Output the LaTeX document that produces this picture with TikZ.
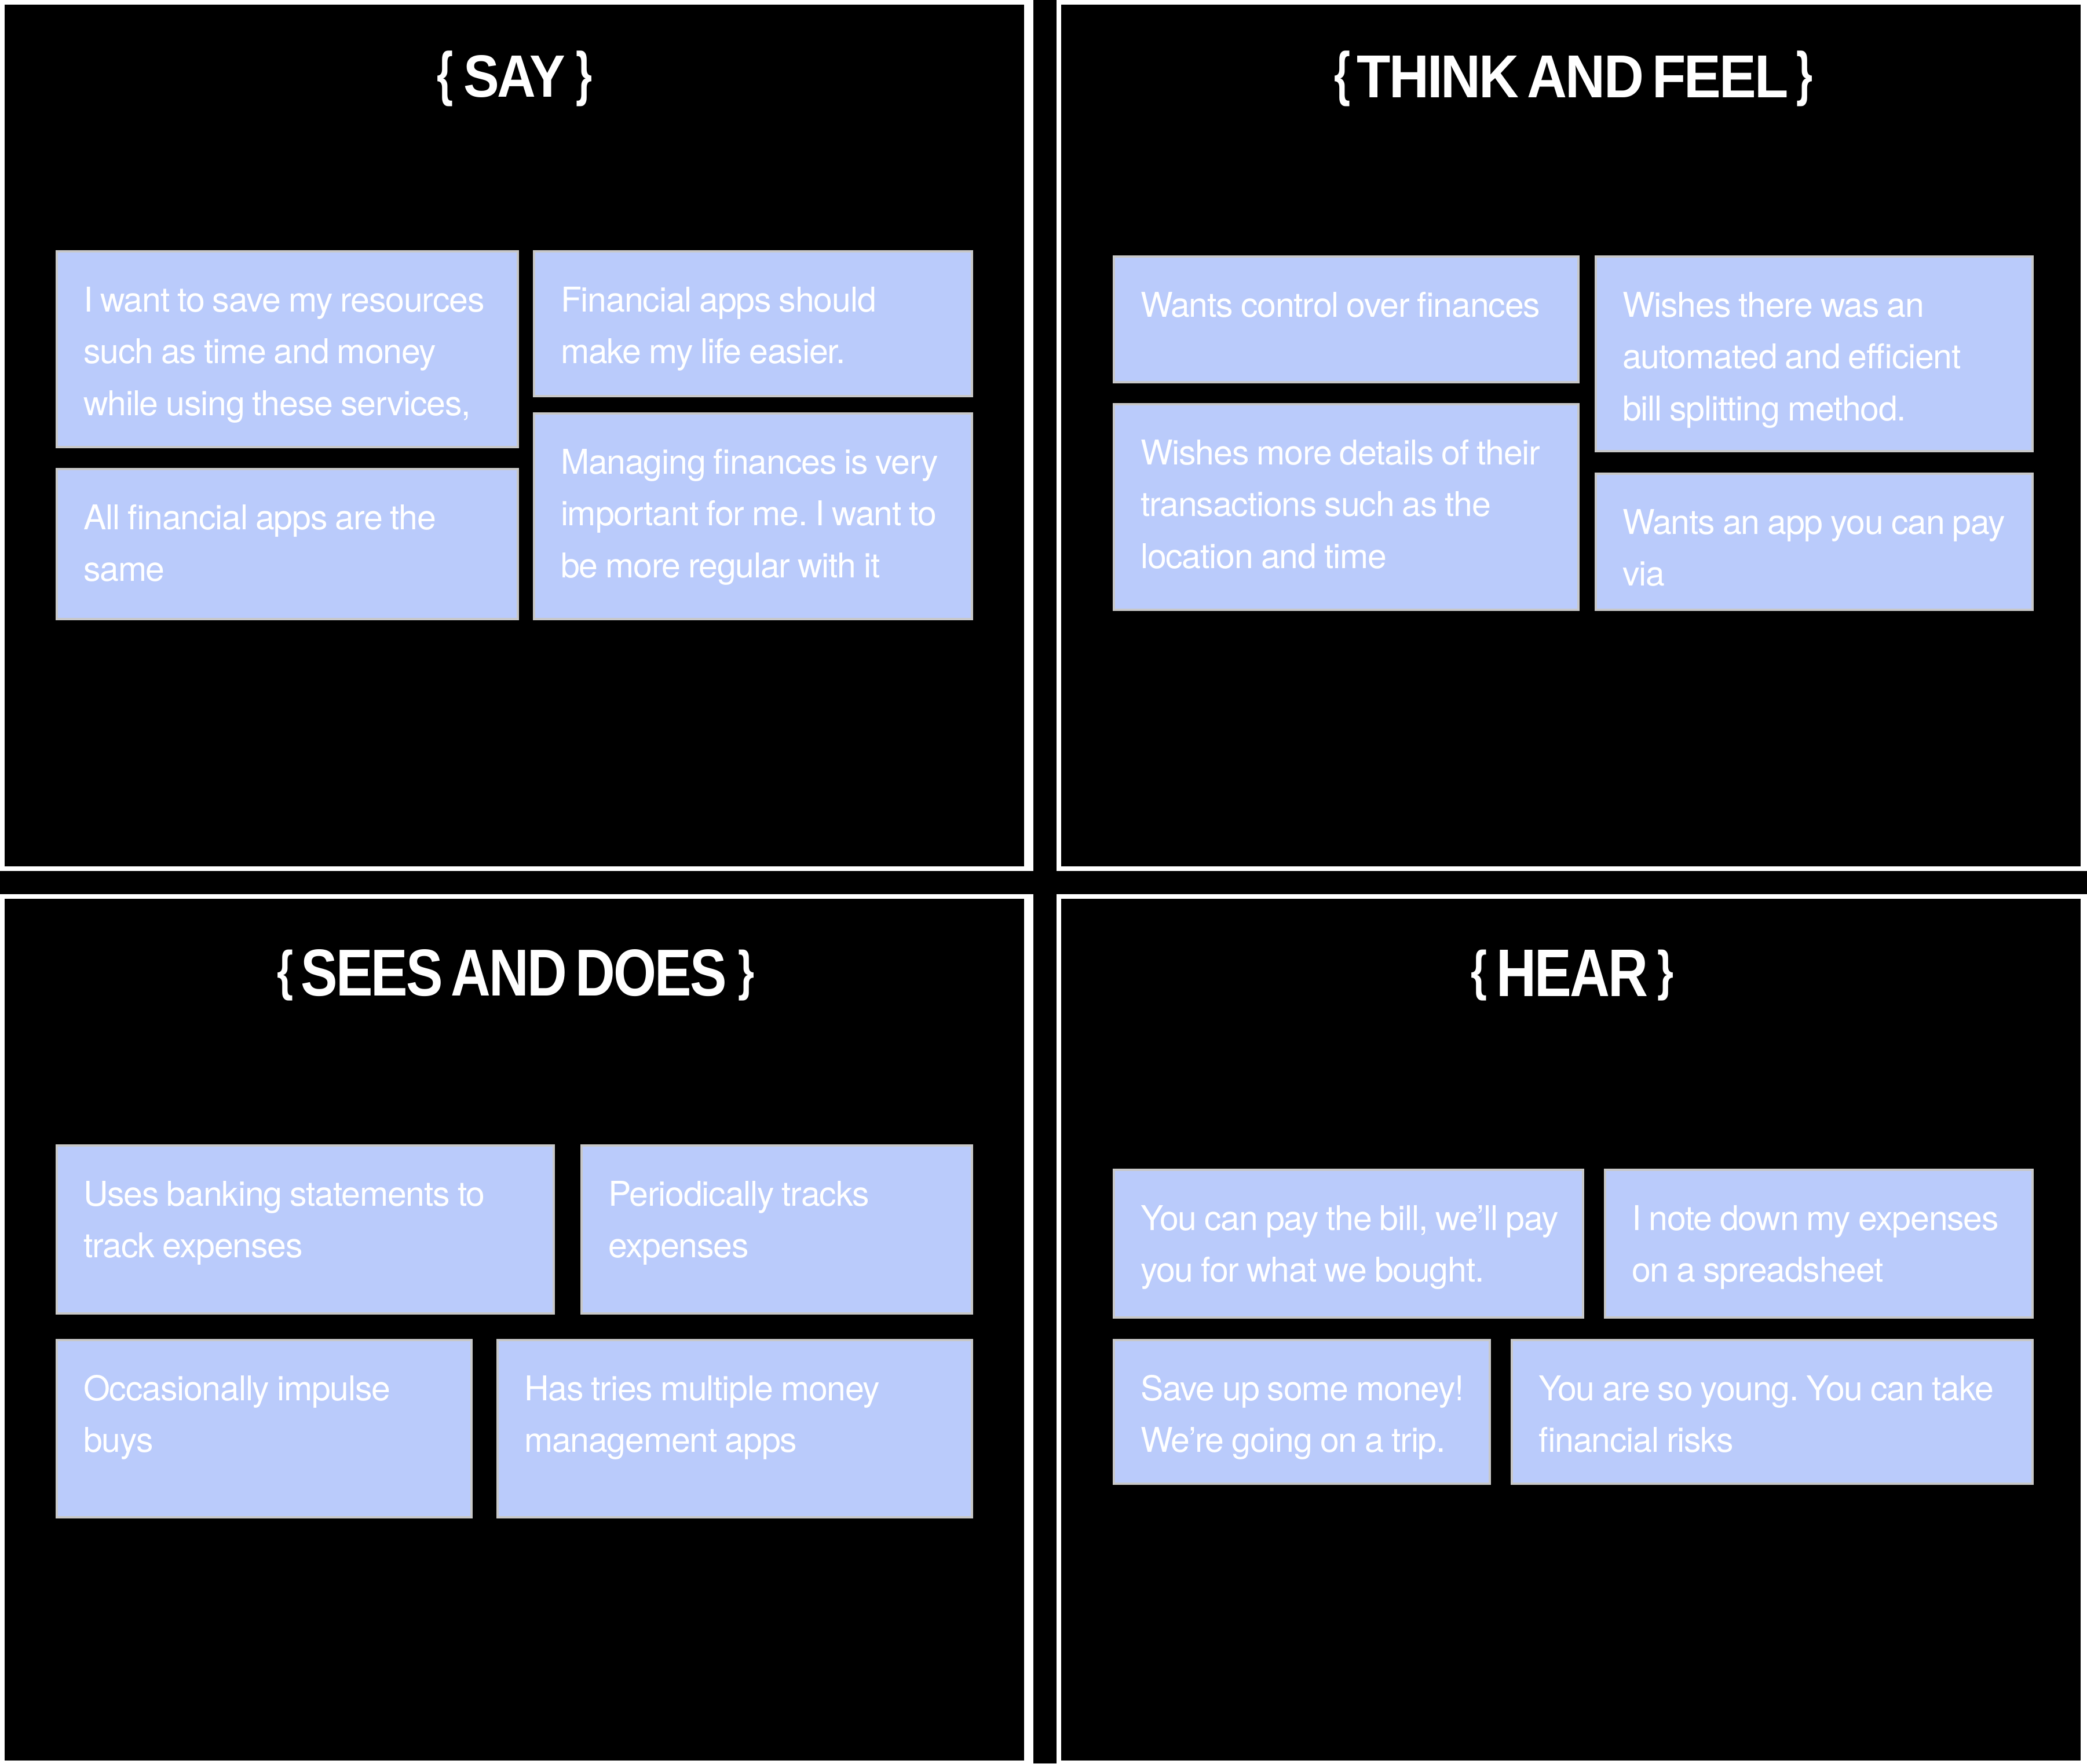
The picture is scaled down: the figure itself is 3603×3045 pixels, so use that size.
\documentclass[tikz,border=0pt]{standalone}
\usepackage{fontspec}
\usepackage{graphicx}
\setmainfont{TeX Gyre Heros}[LetterSpace=-2.0,WordSpace=0.85]
\newfontfamily\titlefont{Liberation Sans}[LetterSpace=-3,WordSpace=0.6]
\definecolor{notefill}{RGB}{186,203,251}
\definecolor{noteedge}{RGB}{200,200,200}
\newlength\upx
\setlength\upx{0.1mm}
\frenchspacing
\tikzset{
  note/.style={rectangle, fill=notefill, draw=noteedge, line width=4\upx,
    inner sep=0pt, outer sep=0pt, anchor=north west},
  notetext/.style={anchor=north west, inner sep=0pt, outer sep=0pt, align=left,
    text=white, font=\fontsize{16.79pt}{25.47pt}\selectfont\frenchspacing},
  titlepart/.style={inner sep=0pt, outer sep=0pt, text=white, anchor=center},
}
\newcommand\mknote[6]{%
  \node[note, minimum width={(#4-#2-4)*\upx}, minimum height={(#5-#3-4)*\upx}] (#1) at (#2+2,#3+2) {};
  \node[notetext] (#1t) at ([xshift=46\upx, yshift=-54\upx]#1.north west) {\rule{0pt}{50\upx}#6};
}
% name, left brace x, right brace x, brace y, brace h, word x, word y, word w, word h
\newcommand\mktitle[9]{%
  \node[titlepart] (#1L) at (#2,#4) {\resizebox*{28\upx}{#5\upx}{\titlefont\bfseries\{}};
  \node[titlepart] (#1R) at (#3,#4) {\resizebox*{28\upx}{#5\upx}{\titlefont\bfseries\}}};
  \node[titlepart] (#1W) at (#6,#7) {\resizebox{#8\upx}{#9\upx}{\titlefont\bfseries\TitleText}};
}
\begin{document}
\begin{tikzpicture}[x=0.1mm,y=-0.1mm]
\fill[white] (0,0) rectangle (3603,3045);
\useasboundingbox (0,0) rectangle (3603,3045);
% panels
\fill[black] (8,8) rectangle (1768,1496);
\fill[black] (1832,8) rectangle (3592,1496);
\fill[black] (8,1552) rectangle (1768,3040);
\fill[black] (1832,1552) rectangle (3592,3040);
% separator bands
\fill[black] (1784,0) rectangle (1824,3045);
\fill[black] (0,1504) rectangle (3603,1544);
% titles
\def\TitleText{SAY}
\mktitle{say}{768}{1008}{136}{96}{888}{132}{176}{72}
\def\TitleText{THINK AND FEEL}
\mktitle{think}{2317}{3115}{136}{96}{2715}{132}{745}{72}
\def\TitleText{SEES AND DOES}
\mktitle{sees}{492}{1288}{1684}{88}{887}{1680}{735}{80}
\def\TitleText{HEAR}
\mktitle{hear}{2553}{2875}{1684}{88}{2714}{1680}{262}{80}
% SAY notes
\mknote{a}{96}{432}{896}{774}{I want to save my resources\\such as time and money\\while using these services,}
\mknote{b}{920}{432}{1680}{686}{Financial apps should\\make my life easier.}
\mknote{c}{96}{808}{896}{1071}{All financial apps are the\\same}
\mknote{d}{920}{712}{1680}{1071}{Managing finances is very\\important for me. I want to\\be more regular with it}
% THINK AND FEEL notes
\mknote{e}{1921}{441}{2727}{662}{Wants control over finances}
\mknote{f}{2753}{441}{3511}{781}{Wishes there was an\\automated and efficient\\bill splitting method.}
\mknote{g}{1921}{696}{2727}{1055}{Wishes more details of their\\transactions such as the\\location and time}
\mknote{h}{2753}{816}{3511}{1055}{Wants an app you can pay\\via}
% SEES AND DOES notes
\mknote{i}{96}{1976}{958}{2270}{Uses banking statements to\\track expenses}
\mknote{j}{1002}{1976}{1680}{2270}{Periodically tracks\\expenses}
\mknote{k}{96}{2312}{816}{2622}{Occasionally impulse\\buys}
\mknote{l}{857}{2312}{1680}{2622}{Has tries multiple money\\management apps}
% HEAR notes
\mknote{m}{1921}{2018}{2735}{2277}{You can pay the bill, we’ll pay\\you for what we bought.}
\mknote{n}{2769}{2018}{3511}{2277}{I note down my expenses\\on a spreadsheet}
\mknote{o}{1921}{2312}{2574}{2564}{Save up some money!\\We’re going on a trip.}
\mknote{p}{2608}{2312}{3511}{2564}{You are so young. You can take\\financial risks}
\end{tikzpicture}
\end{document}
